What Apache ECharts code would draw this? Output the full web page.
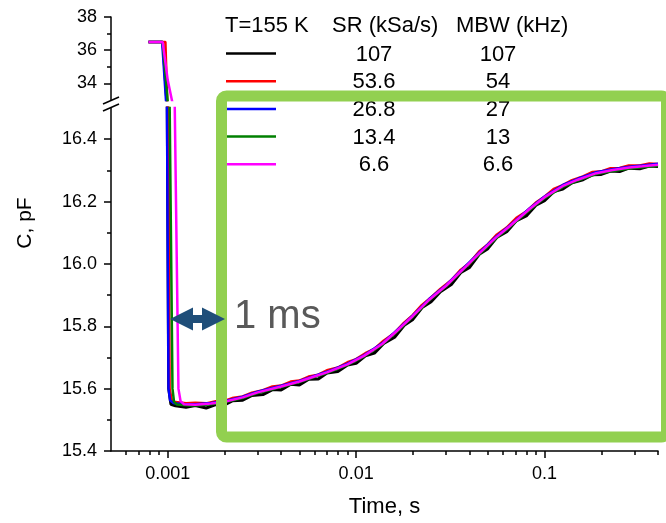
<!DOCTYPE html>
<html>
<head>
<meta charset="utf-8">
<script src="https://cdn.jsdelivr.net/npm/echarts@6/dist/echarts.min.js"></script>
<style>html,body{margin:0;padding:0;background:#fff;}#c{width:666px;height:523px;}</style>
</head>
<body>
<div id="c"></div>
<script>
// ---------- data ----------
const seriesNames = ['107', '53.6', '26.8', '13.4', '6.6'];
const srLabels = ['107', '53.6', '26.8', '13.4', '6.6'];
const mbwLabels = ['107', '54', '27', '13', '6.6'];
const seriesColors = ['#000000', '#FF0000', '#0000FF', '#008000', '#FF00FF'];
const headerTexts = ['T=155 K', 'SR (kSa/s)', 'MBW (kHz)'];

const xTickLabels = [0.001, 0.01, 0.1];
const xMinorTicks = [0.0006, 0.0007, 0.0008, 0.0009, 0.002, 0.003, 0.004, 0.005, 0.006, 0.007, 0.008, 0.009,
  0.02, 0.03, 0.04, 0.05, 0.06, 0.07, 0.08, 0.09, 0.2, 0.3, 0.4];
const yUpperLabels = [34, 36, 38];
const yUpperMinor = [35, 37];
const yLowerLabels = [15.4, 15.6, 15.8, 16.0, 16.2, 16.4];
const yLowerMinor = [15.5, 15.7, 15.9, 16.1, 16.3];

// upper (broken) segment: capacitance before the pulse ends
const upperBlack = [[0.00079, 36.5], [0.00094, 36.5], [0.00099, 32.6]];
const upperRed = [[0.00079, 36.5], [0.000972, 36.5], [0.000995, 32.8]];
const upperBlue = [[0.00079, 36.5], [0.000934, 36.5], [0.000984, 32.6]];
const upperGreen = [[0.00079, 36.5], [0.00094, 36.5], [0.001005, 32.6]];
const upperMagenta = [[0.00079, 36.5], [0.00094, 36.5], [0.001, 34.2], [0.00107, 32.6]];

// lower segment: transients
const lowerBlack = [[0.000985, 17.0], [0.001012, 15.6], [0.00104, 15.55],
  [0.0011, 15.545], [0.00125, 15.540], [0.0014, 15.546], [0.0016, 15.538], [0.0018, 15.549], [0.002, 15.548],
  [0.0022, 15.561], [0.0025, 15.563], [0.0028, 15.578], [0.0032, 15.581], [0.0036, 15.597], [0.004, 15.596],
  [0.0045, 15.614], [0.005, 15.612], [0.0056, 15.630], [0.0063, 15.631], [0.007, 15.650], [0.008, 15.655],
  [0.009, 15.676], [0.01, 15.681], [0.0112, 15.705], [0.0125, 15.714], [0.014, 15.745], [0.016, 15.765],
  [0.018, 15.803], [0.02, 15.822], [0.0224, 15.860], [0.025, 15.879], [0.028, 15.911], [0.032, 15.934],
  [0.036, 15.973], [0.04, 15.989], [0.045, 16.031], [0.05, 16.049], [0.056, 16.086], [0.063, 16.103],
  [0.071, 16.139], [0.08, 16.154], [0.09, 16.188], [0.1, 16.203], [0.112, 16.232], [0.125, 16.240],
  [0.14, 16.260], [0.16, 16.270], [0.18, 16.286], [0.2, 16.287], [0.224, 16.298], [0.25, 16.296],
  [0.28, 16.307], [0.32, 16.305], [0.36, 16.314], [0.4, 16.312]];
const lowerRed = [[0.000995, 17.0], [0.00102, 15.6], [0.00105, 15.56],
  [0.0011, 15.556], [0.00125, 15.552], [0.0014, 15.554], [0.0016, 15.552], [0.0018, 15.559], [0.002, 15.560],
  [0.0022, 15.569], [0.0025, 15.574], [0.0028, 15.586], [0.0032, 15.594], [0.0036, 15.606], [0.004, 15.609],
  [0.0045, 15.622], [0.005, 15.625], [0.0056, 15.638], [0.0063, 15.644], [0.007, 15.658], [0.008, 15.667],
  [0.009, 15.684], [0.01, 15.694], [0.0112, 15.713], [0.0125, 15.727], [0.014, 15.753], [0.016, 15.778],
  [0.018, 15.811], [0.02, 15.835], [0.0224, 15.868], [0.025, 15.892], [0.028, 15.919], [0.032, 15.947],
  [0.036, 15.981], [0.04, 16.002], [0.045, 16.039], [0.05, 16.062], [0.056, 16.094], [0.063, 16.116],
  [0.071, 16.147], [0.08, 16.167], [0.09, 16.196], [0.1, 16.215], [0.112, 16.240], [0.125, 16.252],
  [0.14, 16.268], [0.16, 16.280], [0.18, 16.294], [0.2, 16.296], [0.224, 16.306], [0.25, 16.307],
  [0.28, 16.315], [0.32, 16.315], [0.36, 16.321], [0.4, 16.320]];
const lowerBlue = [[0.00098, 17.0], [0.00101, 15.6], [0.00103, 15.562], [0.00108, 15.553],
  [0.0012, 15.551], [0.0014, 15.550], [0.0017, 15.554], [0.002, 15.560], [0.0025, 15.574], [0.003, 15.590],
  [0.004, 15.609], [0.005, 15.625], [0.006, 15.641], [0.007, 15.654], [0.009, 15.680], [0.011, 15.707],
  [0.0138, 15.746], [0.017, 15.795], [0.02, 15.835], [0.0245, 15.888], [0.03, 15.932], [0.0368, 15.984],
  [0.045, 16.036], [0.0553, 16.087], [0.065, 16.122], [0.0832, 16.178], [0.1, 16.216], [0.125, 16.253],
  [0.15, 16.273], [0.188, 16.294], [0.23, 16.304], [0.282, 16.312], [0.33, 16.316], [0.4, 16.321]];
const lowerGreen = [[0.001005, 17.0], [0.00106, 15.6], [0.00108, 15.558], [0.00112, 15.549],
  [0.0013, 15.546], [0.0015, 15.547], [0.0017, 15.550], [0.002, 15.556], [0.0025, 15.570], [0.003, 15.586],
  [0.004, 15.605], [0.005, 15.621], [0.006, 15.637], [0.007, 15.650], [0.009, 15.676], [0.011, 15.703],
  [0.0138, 15.742], [0.017, 15.790], [0.02, 15.831], [0.0245, 15.884], [0.03, 15.928], [0.0368, 15.980],
  [0.045, 16.031], [0.0553, 16.082], [0.065, 16.117], [0.0832, 16.173], [0.1, 16.211], [0.125, 16.247],
  [0.15, 16.267], [0.188, 16.288], [0.23, 16.298], [0.282, 16.306], [0.33, 16.310], [0.4, 16.315]];
const lowerMagenta = [[0.001075, 17.5], [0.00109, 16.5], [0.00114, 15.6], [0.00117, 15.56], [0.00122, 15.55],
  [0.0014, 15.548], [0.0017, 15.552], [0.002, 15.558], [0.0025, 15.572], [0.003, 15.588],
  [0.004, 15.607], [0.005, 15.623], [0.006, 15.639], [0.007, 15.652], [0.009, 15.678], [0.011, 15.705],
  [0.0138, 15.744], [0.017, 15.793], [0.02, 15.833], [0.0245, 15.886], [0.03, 15.930], [0.0368, 15.982],
  [0.045, 16.034], [0.0553, 16.085], [0.065, 16.120], [0.0832, 16.176], [0.1, 16.214], [0.125, 16.250],
  [0.15, 16.270], [0.188, 16.291], [0.23, 16.301], [0.282, 16.309], [0.33, 16.313], [0.4, 16.318]];

const upperData = [upperBlack, upperRed, upperBlue, upperGreen, upperMagenta];
const lowerData = [lowerBlack, lowerRed, lowerBlue, lowerGreen, lowerMagenta];

// ---------- chart ----------
const FONT = 'Liberation Sans, Arial, sans-serif';
const chart = echarts.init(document.getElementById('c'), null, { renderer: 'canvas' });

const X_MIN = 0.0005, X_MAX = 0.4;
const axisLineStyle = { color: '#000', width: 1.5 };
const lowerWidths = [3, 3, 2.5, 2.5, 2.5];

const series = [];
seriesColors.forEach((col, i) => {
  series.push({
    name: seriesNames[i], type: 'line', xAxisIndex: 0, yAxisIndex: 0,
    data: upperData[i], showSymbol: false, clip: true, animation: false,
    lineStyle: { color: col, width: 2.5 }, z: 2 + i
  });
  series.push({
    name: seriesNames[i], type: 'line', xAxisIndex: 1, yAxisIndex: 2,
    data: lowerData[i], showSymbol: false, clip: true, animation: false,
    lineStyle: { color: col, width: lowerWidths[i] }, z: 2 + i
  });
});

// legend-like table
const graphics = [];
const headerX = [225, 332, 456];
headerTexts.forEach((t, i) => {
  graphics.push({ type: 'text', x: headerX[i], y: 26, z: 50,
    style: { text: t, font: '22px ' + FONT, fill: '#000', align: 'left', verticalAlign: 'middle' } });
});
const rowY0 = 53.5, rowStep = 27.7;
seriesColors.forEach((col, i) => {
  const y = rowY0 + i * rowStep;
  graphics.push({ type: 'line', z: 50, shape: { x1: 226, y1: y, x2: 276, y2: y },
    style: { stroke: col, lineWidth: 2.5 } });
  graphics.push({ type: 'text', x: 374, y: y + 1, z: 50,
    style: { text: srLabels[i], font: '22px ' + FONT, fill: '#000', align: 'center', verticalAlign: 'middle' } });
  graphics.push({ type: 'text', x: 498, y: y + 1, z: 50,
    style: { text: mbwLabels[i], font: '22px ' + FONT, fill: '#000', align: 'center', verticalAlign: 'middle' } });
});
// axis break marks
graphics.push({ type: 'line', z: 50, shape: { x1: 103, y1: 104, x2: 119, y2: 97 }, style: { stroke: '#000', lineWidth: 1.5 } });
graphics.push({ type: 'line', z: 50, shape: { x1: 103, y1: 111, x2: 119, y2: 104 }, style: { stroke: '#000', lineWidth: 1.5 } });
// y axis title
graphics.push({ type: 'text', x: 25, y: 223, rotation: Math.PI / 2, z: 50,
  style: { text: 'C, pF', font: '21px ' + FONT, fill: '#000', align: 'center', verticalAlign: 'middle' } });
// green frame
graphics.push({ type: 'rect', z: 60, shape: { x: 221.5, y: 96, width: 445, height: 341, r: 5 },
  style: { fill: null, stroke: '#92D050', lineWidth: 11 } });
// double arrow
graphics.push({ type: 'polygon', z: 70, shape: { points: [[170, 319], [193, 307.5], [193, 315], [202, 315], [202, 307.5], [225, 319], [202, 330.5], [202, 323], [193, 323], [193, 330.5]] },
  style: { fill: '#1F4E79' } });
graphics.push({ type: 'text', x: 234, y: 317, z: 70,
  style: { text: '1 ms', font: '40px ' + FONT, fill: '#595959', align: 'left', verticalAlign: 'middle' } });

const option = {
  animation: false,
  backgroundColor: '#fff',
  grid: [
    { left: 111, right: 8, top: 17, height: 83 },
    { left: 111, right: 8, top: 108, height: 344 }
  ],
  xAxis: [
    { type: 'log', gridIndex: 0, min: X_MIN, max: X_MAX, show: false },
    { type: 'log', gridIndex: 1, min: X_MIN, max: X_MAX, position: 'bottom',
      name: 'Time, s', nameLocation: 'middle', nameGap: 45,
      nameTextStyle: { fontFamily: FONT, fontSize: 22, color: '#000' },
      axisLine: { show: true, lineStyle: axisLineStyle },
      axisTick: { show: true, inside: false, length: 7, customValues: xTickLabels, lineStyle: { color: '#000', width: 1.5 } },
      axisLabel: { customValues: xTickLabels, margin: 14, fontFamily: FONT, fontSize: 18, color: '#000',
        formatter: v => String(+v.toPrecision(6)) },
      splitLine: { show: false }, minorTick: { show: false }
    },
    { type: 'log', gridIndex: 1, min: X_MIN, max: X_MAX, position: 'bottom', offset: 0,
      axisLine: { show: false },
      axisTick: { show: true, inside: false, length: 4, customValues: xMinorTicks, lineStyle: { color: '#000', width: 1.5 } },
      axisLabel: { show: false }, splitLine: { show: false }
    }
  ],
  yAxis: [
    { type: 'value', gridIndex: 0, min: 33, max: 38, position: 'left',
      axisLine: { show: true, lineStyle: axisLineStyle },
      axisTick: { show: true, length: 7, customValues: yUpperLabels, lineStyle: { color: '#000', width: 1.5 } },
      axisLabel: { customValues: yUpperLabels, margin: 14, fontFamily: FONT, fontSize: 18, color: '#000' },
      splitLine: { show: false }
    },
    { type: 'value', gridIndex: 0, min: 33, max: 38, position: 'left', offset: 0,
      axisLine: { show: false },
      axisTick: { show: true, length: 4, customValues: yUpperMinor, lineStyle: { color: '#000', width: 1.5 } },
      axisLabel: { show: false }, splitLine: { show: false }
    },
    { type: 'value', gridIndex: 1, min: 15.4, max: 16.5, position: 'left',
      axisLine: { show: true, lineStyle: axisLineStyle },
      axisTick: { show: true, length: 7, customValues: yLowerLabels, lineStyle: { color: '#000', width: 1.5 } },
      axisLabel: { customValues: yLowerLabels, margin: 14, fontFamily: FONT, fontSize: 18, color: '#000',
        formatter: v => Number(v).toFixed(1) },
      splitLine: { show: false }
    },
    { type: 'value', gridIndex: 1, min: 15.4, max: 16.5, position: 'left', offset: 0,
      axisLine: { show: false },
      axisTick: { show: true, length: 4, customValues: yLowerMinor, lineStyle: { color: '#000', width: 1.5 } },
      axisLabel: { show: false }, splitLine: { show: false }
    }
  ],
  series: series,
  graphic: graphics
};
chart.setOption(option);
</script>
</body>
</html>
